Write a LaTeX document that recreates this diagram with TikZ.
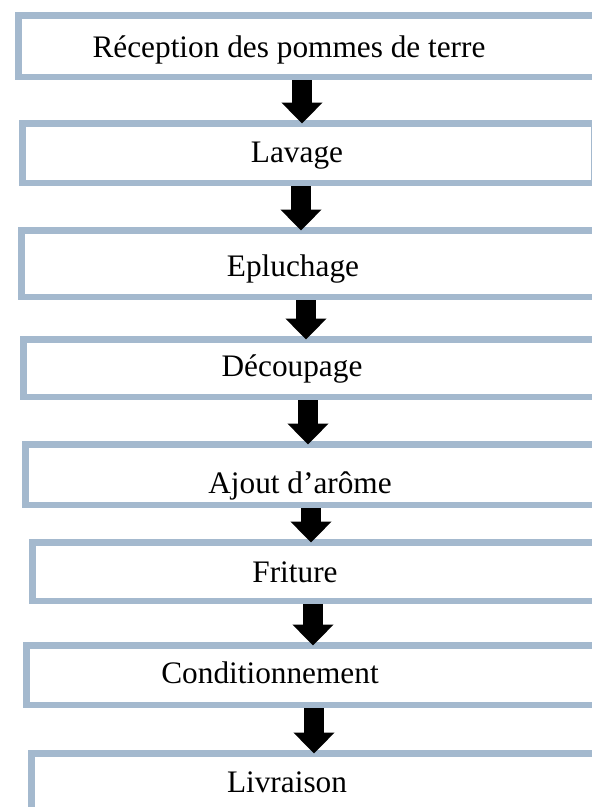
\documentclass[tikz,border=0pt]{standalone}
\usepackage{fontspec}
\setmainfont{Liberation Serif}
\usetikzlibrary{arrows.meta}
\definecolor{boxblue}{RGB}{164,185,206}
\tikzset{
  box/.style={draw=boxblue, line width=6.5pt, fill=white, inner sep=0pt, anchor=north west},
  lbl/.style={anchor=base, inner sep=0pt, font=\fontsize{31.3}{36}\selectfont},
  flowarrow/.style={draw=black, line width=20pt, -{Triangle[width=40pt,length=21pt]}, shorten >=-3.25pt}
}
\begin{document}
\begin{tikzpicture}[x=1pt,y=1pt]
\useasboundingbox (0,0) rectangle (592,-807);
\clip (0,0) rectangle (592,-807);
\fill[white] (0,0) rectangle (592,-807);
% boxes
\node[box, minimum width=576.5pt, minimum height=61.5pt] (b1) at (15.25,-12.25) {};
\node[box, minimum width=571.5pt, minimum height=59.5pt] (b2) at (19.25,-120.25) {};
\node[box, minimum width=574.5pt, minimum height=66.5pt] (b3) at (18.25,-227.25) {};
\node[box, minimum width=586.5pt, minimum height=57.5pt] (b4) at (20.25,-336.25) {};
\node[box, minimum width=570.5pt, minimum height=60.5pt] (b5) at (22.25,-441.25) {};
\node[box, minimum width=577.5pt, minimum height=58.5pt] (b6) at (29.25,-539.25) {};
\node[box, minimum width=583.5pt, minimum height=59.5pt] (b7) at (23.25,-642.25) {};
\node[box, minimum width=578.5pt, minimum height=56.5pt] (b8) at (28.25,-750.25) {};
% labels
\node[lbl] (t1) at (289,-57) {Réception des pommes de terre};
\node[lbl] (t2) at (297,-162) {Lavage};
\node[lbl] (t3) at (293,-276) {Epluchage};
\node[lbl] (t4) at (292,-376) {Découpage};
\node[lbl] (t5) at (300,-493) {Ajout d’arôme};
\node[lbl] (t6) at (295,-582) {Friture};
\node[lbl] (t7) at (270,-683) {Conditionnement};
\node[lbl] (t8) at (287,-792) {Livraison};
% arrows
\coordinate (x1) at (302,0);
\coordinate (x2) at (301,0);
\coordinate (x3) at (306,0);
\coordinate (x4) at (308,0);
\coordinate (x5) at (311,0);
\coordinate (x6) at (313,0);
\coordinate (x7) at (314,0);
\draw[flowarrow] (b1.south -| x1) -- (b2.north -| x1);
\draw[flowarrow] (b2.south -| x2) -- (b3.north -| x2);
\draw[flowarrow] (b3.south -| x3) -- (b4.north -| x3);
\draw[flowarrow] (b4.south -| x4) -- (b5.north -| x4);
\draw[flowarrow] (b5.south -| x5) -- (b6.north -| x5);
\draw[flowarrow] (b6.south -| x6) -- (b7.north -| x6);
\draw[flowarrow] (b7.south -| x7) -- (b8.north -| x7);
\end{tikzpicture}
\end{document}
